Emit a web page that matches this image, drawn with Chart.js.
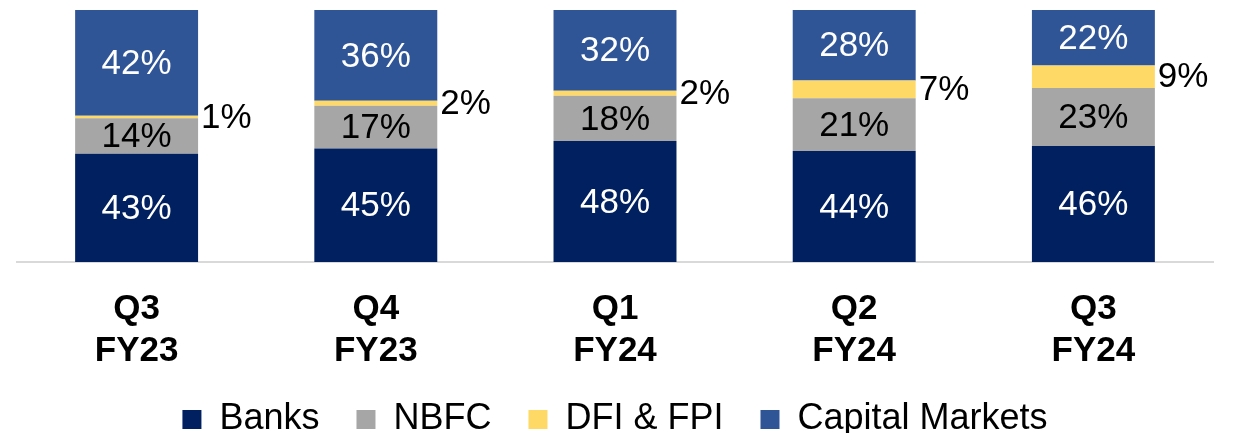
<!DOCTYPE html>
<html>
<head>
<meta charset="utf-8">
<script src="https://cdn.jsdelivr.net/npm/chart.js@4.4.1/dist/chart.umd.min.js"></script>
<style>
  html, body { margin: 0; padding: 0; background: #ffffff; }
  #wrap { width: 1245px; height: 433px; position: relative; }
</style>
</head>
<body>
<div id="wrap"><canvas id="c"></canvas></div>
<script>
const categories = [["Q3", "FY23"], ["Q4", "FY23"], ["Q1", "FY24"], ["Q2", "FY24"], ["Q3", "FY24"]];
const banks = [43, 45, 48, 44, 46];
const nbfc = [14, 17, 18, 21, 23];
const dfiFpi = [1, 2, 2, 7, 9];
const capitalMarkets = [42, 36, 32, 28, 22];
const seriesNames = ["Banks", "NBFC", "DFI & FPI", "Capital Markets"];

const FONT = "'Liberation Sans', Arial, Helvetica, sans-serif";

const labelPlugin = {
  id: 'segLabels',
  afterDatasetsDraw(chart) {
    const ctx = chart.ctx;
    ctx.save();
    ctx.font = "35px " + FONT;
    ctx.textBaseline = 'middle';
    chart.data.datasets.forEach((ds, di) => {
      const meta = chart.getDatasetMeta(di);
      meta.data.forEach((bar, i) => {
        const v = ds.data[i];
        const cy = (bar.y + bar.base) / 2;
        const txt = v + '%';
        if (ds.labelOutside) {
          ctx.textAlign = 'left';
          ctx.fillStyle = '#000000';
          ctx.fillText(txt, bar.x + bar.width / 2 + 3, cy + 1);
        } else {
          ctx.textAlign = 'center';
          ctx.fillStyle = ds.labelColor;
          ctx.fillText(txt, bar.x, cy + 1.5);
        }
      });
    });
    ctx.restore();
  }
};

new Chart(document.getElementById('c'), {
  type: 'bar',
  data: {
    labels: categories,
    datasets: [
      { label: seriesNames[0], data: banks, backgroundColor: '#002060', labelColor: '#ffffff', borderWidth: 0 },
      { label: seriesNames[1], data: nbfc, backgroundColor: '#A6A6A6', labelColor: '#000000', borderWidth: 0 },
      { label: seriesNames[2], data: dfiFpi, backgroundColor: '#FFD966', labelOutside: true, borderWidth: 0 },
      { label: seriesNames[3], data: capitalMarkets, backgroundColor: '#2F5597', labelColor: '#ffffff', borderWidth: 0 }
    ]
  },
  options: {
    responsive: true,
    maintainAspectRatio: false,
    animation: false,
    datasets: { bar: { categoryPercentage: 1.0, barPercentage: 0.514 } },
    layout: { padding: { top: 10, left: 17, right: 32, bottom: -14.5 } },
    scales: {
      x: {
        stacked: true,
        grid: { display: false, drawTicks: false },
        border: { display: true, color: '#D9D9D9', width: 2 },
        ticks: { color: '#000000', font: { family: FONT, size: 35, weight: 'bold', lineHeight: 1.2 }, padding: 26, maxRotation: 0, autoSkip: false },
        afterFit(scale) { scale.height = 102.5; }
      },
      y: {
        stacked: true,
        display: false,
        min: 0,
        max: 100
      }
    },
    plugins: {
      legend: {
        position: 'bottom',
        labels: {
          boxWidth: 19,
          boxHeight: 19,
          padding: 37,
          color: '#000000',
          font: { family: FONT, size: 36 }
        }
      },
      tooltip: { enabled: false }
    }
  },
  plugins: [labelPlugin]
});
</script>
</body>
</html>
